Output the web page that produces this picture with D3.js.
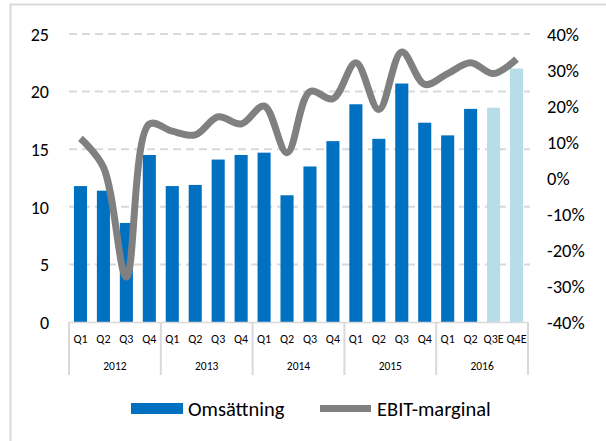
<!DOCTYPE html>
<meta charset="utf-8">
<style>
body { margin: 0; background: #fff; }
text { font-family: Carlito, Lato, "Open Sans", sans-serif; fill: #000; }
</style>
<body>
<div id="chart"></div>
<script src="https://d3js.org/d3.v7.min.js"></script>
<script>
// data
var years = ["2012", "2013", "2014", "2015", "2016"];
var quarters = ["Q1", "Q2", "Q3", "Q4", "Q1", "Q2", "Q3", "Q4", "Q1", "Q2", "Q3", "Q4",
                "Q1", "Q2", "Q3", "Q4", "Q1", "Q2", "Q3E", "Q4E"];
var omsattning = [11.8, 11.4, 8.6, 14.5, 11.8, 11.9, 14.1, 14.5, 14.7, 11.0, 13.5, 15.7,
                  18.9, 15.9, 20.7, 17.3, 16.2, 18.5, 18.6, 22.0];
var estimate = [false, false, false, false, false, false, false, false, false, false, false, false,
                false, false, false, false, false, false, true, true];
var ebit = [11, 3, -27.5, 15, 13, 12, 17, 15, 20, 7, 24, 22, 32, 19, 35, 26, 29, 32, 29, 33];
var leftTicks = [0, 5, 10, 15, 20, 25];
var rightTicks = [-40, -30, -20, -10, 0, 10, 20, 30, 40];

var W = 606, H = 441;
var svg = d3.select("#chart").append("svg").attr("width", W).attr("height", H);

// outer chart border
svg.append("path").attr("d", "M10.5,441 V4.5 H606")
  .attr("fill", "none").attr("stroke", "#d9d9d9").attr("stroke-width", 2);

var x0 = 69, x1 = 528, yTop = 34, yBot = 322;
var idx = d3.range(quarters.length);
var x = d3.scaleBand().domain(idx).range([x0, x1]).paddingInner(0.43).paddingOuter(0.215);
var xc = d3.scaleBand().domain(idx).range([x0, x1]);
var yL = d3.scaleLinear().domain([0, 25]).range([yBot, yTop]);
var yR = d3.scaleLinear().domain([-40, 40]).range([yBot, yTop]);

// grid
svg.append("g").selectAll("line").data(leftTicks.slice(1)).join("line")
  .attr("x1", x0).attr("x2", x1 + 2)
  .attr("y1", d => yL(d)).attr("y2", d => yL(d))
  .attr("stroke", "#d9d9d9").attr("stroke-width", 2).attr("stroke-dasharray", "8,5");

// left axis
var axL = svg.append("g").attr("transform", "translate(49,0)")
  .call(d3.axisLeft(yL).tickValues(leftTicks).tickSize(0).tickPadding(0));
axL.select(".domain").remove();
axL.selectAll("text").style("font-size", "18px").attr("dy", "0.35em");

// right axis
var axR = svg.append("g").attr("transform", "translate(547,0)")
  .call(d3.axisRight(yR).tickValues(rightTicks).tickSize(0).tickPadding(0).tickFormat(d => d + "%"));
axR.select(".domain").remove();
axR.selectAll("text").style("font-size", "18.5px").attr("dy", "0.35em");

// bars
svg.append("g").selectAll("rect").data(idx).join("rect")
  .attr("x", i => x(i)).attr("width", x.bandwidth())
  .attr("y", i => yL(omsattning[i])).attr("height", i => yBot - yL(omsattning[i]))
  .attr("fill", i => estimate[i] ? "#b7dee8" : "#0070c0");

// x axis base line and category labels
svg.append("line").attr("x1", x0).attr("x2", x1).attr("y1", yBot + 0.5).attr("y2", yBot + 0.5)
  .attr("stroke", "#d9d9d9").attr("stroke-width", 1.5);
svg.append("g").selectAll("text").data(idx).join("text")
  .attr("x", i => xc(i) + xc.bandwidth() / 2).attr("y", 343)
  .attr("text-anchor", "middle").style("font-size", "12px")
  .text(i => quarters[i]);

// year group separators and labels
var sep = d3.range(years.length + 1).map(k => k === years.length ? x1 : xc(k * 4));
svg.append("g").selectAll("line").data(sep).join("line")
  .attr("x1", d => d).attr("x2", d => d).attr("y1", yBot).attr("y2", 375)
  .attr("stroke", "#d9d9d9").attr("stroke-width", 2);
svg.append("g").selectAll("text").data(years).join("text")
  .attr("x", (d, k) => (sep[k] + sep[k + 1]) / 2).attr("y", 370)
  .attr("text-anchor", "middle").style("font-size", "11.5px")
  .text(d => d);

// EBIT line
var line = d3.line()
  .x((d, i) => xc(i) + xc.bandwidth() / 2)
  .y(d => yR(d))
  .curve(d3.curveCatmullRom.alpha(0.5));
svg.append("path").datum(ebit).attr("d", line)
  .attr("fill", "none").attr("stroke", "#808080").attr("stroke-width", 7)
  .attr("stroke-linejoin", "round");

// legend
var lg = svg.append("g");
lg.append("rect").attr("x", 131).attr("y", 403).attr("width", 52).attr("height", 11).attr("fill", "#0070c0");
lg.append("text").attr("x", 188).attr("y", 416).style("font-size", "20.5px").text("Omsättning");
lg.append("rect").attr("x", 320).attr("y", 405).attr("width", 51).attr("height", 7).attr("fill", "#808080");
lg.append("text").attr("x", 377).attr("y", 416).style("font-size", "20.5px").text("EBIT-marginal");
</script>
</body>
